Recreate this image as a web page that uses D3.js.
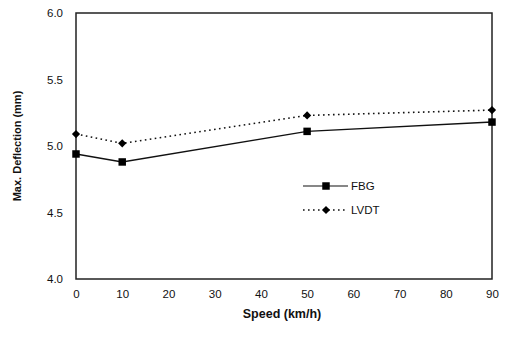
<!DOCTYPE html>
<html>
<head>
<meta charset="utf-8">
<script src="https://cdn.jsdelivr.net/npm/d3@7"></script>
<style>
  html, body { margin: 0; padding: 0; background: #fff; }
  svg { display: block; font-family: "Liberation Sans", Arial, sans-serif; }
</style>
</head>
<body>
<svg id="chart" width="508" height="343"></svg>
<script>
// Maximum deflection measured at each vehicle speed
const speeds = [0, 10, 50, 90];
const fbgValues = [4.94, 4.88, 5.11, 5.18];
const lvdtValues = [5.09, 5.02, 5.23, 5.27];
const xTicks = [0, 10, 20, 30, 40, 50, 60, 70, 80, 90];
const yTicks = [4.0, 4.5, 5.0, 5.5, 6.0];

const svg = d3.select("#chart");
const margin = { left: 76, right: 16, top: 13, bottom: 64 };
const W = 508, H = 343;

const x = d3.scaleLinear().domain([0, 90]).range([margin.left, W - margin.right]);
const y = d3.scaleLinear().domain([4, 6]).range([H - margin.bottom, margin.top]);

// plot frame
svg.append("rect")
  .attr("x", x(0)).attr("y", y(6))
  .attr("width", x(90) - x(0)).attr("height", y(4) - y(6))
  .attr("fill", "none").attr("stroke", "#222").attr("stroke-width", 1.5);

// axes (labels only, ticks hidden)
const xAxis = svg.append("g")
  .attr("transform", `translate(0,${y(4)})`)
  .call(d3.axisBottom(x).tickValues(xTicks).tickFormat(d3.format("d")).tickSize(0).tickPadding(11));
const yAxis = svg.append("g")
  .attr("transform", `translate(${x(0)},0)`)
  .call(d3.axisLeft(y).tickValues(yTicks).tickFormat(d3.format(".1f")).tickSize(0).tickPadding(13));
[xAxis, yAxis].forEach(g => {
  g.select(".domain").remove();
  g.selectAll("text").attr("font-size", 11.5).attr("fill", "#111")
    .attr("font-family", "'Liberation Sans', Arial, sans-serif");
});

// axis titles
svg.append("text")
  .attr("x", 282).attr("y", 318)
  .attr("text-anchor", "middle").attr("font-weight", "bold").attr("font-size", 12.5)
  .attr("fill", "#111").text("Speed (km/h)");
svg.append("text")
  .attr("transform", `translate(21,146) rotate(-90)`)
  .attr("text-anchor", "middle").attr("font-weight", "bold").attr("font-size", 11)
  .attr("fill", "#111").text("Max. Deflection (mm)");

const line = d3.line().x(d => x(d[0])).y(d => y(d[1]));
const fbgData = speeds.map((s, i) => [s, fbgValues[i]]);
const lvdtData = speeds.map((s, i) => [s, lvdtValues[i]]);

const square = d3.symbol().type(d3.symbolSquare).size(56)();
const diamond = d3.symbol().type(d3.symbolSquare).size(34)();

// LVDT series (dotted)
svg.append("path").datum(lvdtData)
  .attr("d", line).attr("fill", "none").attr("stroke", "#111")
  .attr("stroke-width", 1.6).attr("stroke-dasharray", "1.6,3.4");
svg.selectAll(".lvdt").data(lvdtData).enter().append("path")
  .attr("transform", d => `translate(${x(d[0])},${y(d[1])}) rotate(45)`)
  .attr("d", diamond).attr("fill", "#000");

// FBG series (solid)
svg.append("path").datum(fbgData)
  .attr("d", line).attr("fill", "none").attr("stroke", "#111").attr("stroke-width", 1.4);
svg.selectAll(".fbg").data(fbgData).enter().append("path")
  .attr("transform", d => `translate(${x(d[0])},${y(d[1])})`)
  .attr("d", square).attr("fill", "#000");

// legend
const legend = [
  { name: "FBG", dash: null, sym: square, rot: 0, yy: 186 },
  { name: "LVDT", dash: "1.6,3.4", sym: diamond, rot: 45, yy: 210 }
];
legend.forEach(l => {
  svg.append("line").attr("x1", 303).attr("x2", 348).attr("y1", l.yy).attr("y2", l.yy)
    .attr("stroke", "#111").attr("stroke-width", l.dash ? 1.3 : 1.2)
    .attr("stroke-dasharray", l.dash);
  svg.append("path").attr("transform", `translate(326,${l.yy}) rotate(${l.rot})`)
    .attr("d", l.sym).attr("fill", "#000");
  svg.append("text").attr("x", 351).attr("y", l.yy + 4).attr("font-size", 11.5)
    .attr("fill", "#111").text(l.name);
});
</script>
</body>
</html>
